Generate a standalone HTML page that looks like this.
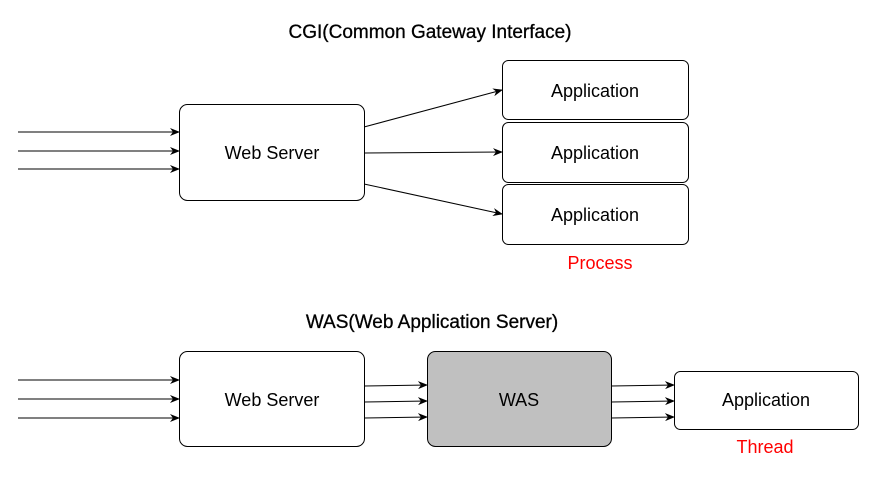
<!DOCTYPE html>
<html><head><style>body{margin:0;background:#fff}svg{display:block}</style></head><body>
<svg width="877" height="479" xmlns="http://www.w3.org/2000/svg" font-family="Liberation Sans, sans-serif">
<defs><marker id="a" markerWidth="10" markerHeight="8" refX="9" refY="4" orient="auto" markerUnits="userSpaceOnUse"><path d="M0,0 L10,4 L0,8 L3,4 Z" fill="#000"/></marker></defs>
<g stroke="#000" stroke-width="1" fill="none">
<line x1="18" y1="132" x2="179" y2="132" marker-end="url(#a)"/>
<line x1="18" y1="151" x2="179" y2="151" marker-end="url(#a)"/>
<line x1="18" y1="169" x2="179" y2="169" marker-end="url(#a)"/>
<line x1="364" y1="127" x2="502" y2="90" marker-end="url(#a)"/>
<line x1="364" y1="153" x2="502" y2="152" marker-end="url(#a)"/>
<line x1="364" y1="184" x2="502" y2="214" marker-end="url(#a)"/>
<line x1="18" y1="380" x2="179" y2="380" marker-end="url(#a)"/>
<line x1="18" y1="399" x2="179" y2="399" marker-end="url(#a)"/>
<line x1="18" y1="418" x2="179" y2="418" marker-end="url(#a)"/>
<line x1="364" y1="386" x2="427" y2="385" marker-end="url(#a)"/>
<line x1="364" y1="402" x2="427" y2="401" marker-end="url(#a)"/>
<line x1="364" y1="418" x2="427" y2="417" marker-end="url(#a)"/>
<line x1="611" y1="386" x2="674" y2="385" marker-end="url(#a)"/>
<line x1="611" y1="402" x2="674" y2="401" marker-end="url(#a)"/>
<line x1="611" y1="418" x2="674" y2="417" marker-end="url(#a)"/>
<rect x="179.5" y="104.5" width="185" height="96" rx="8" fill="#fff"/>
<rect x="502.5" y="60.5" width="186" height="59" rx="6" fill="#fff"/>
<rect x="502.5" y="122.5" width="186" height="60" rx="6" fill="#fff"/>
<rect x="502.5" y="184.5" width="186" height="60" rx="6" fill="#fff"/>
<rect x="179.5" y="351.5" width="185" height="95" rx="8" fill="#fff"/>
<rect x="427.5" y="351.5" width="184" height="95" rx="8" fill="#c0c0c0"/>
<rect x="674.5" y="371.5" width="184" height="58" rx="6" fill="#fff"/>
</g>
<g font-size="18" text-anchor="middle" fill="#000">
<text x="430" y="38" font-size="19" stroke="#000" stroke-width="0.3">CGI(Common Gateway Interface)</text>
<text x="272" y="159">Web Server</text>
<text x="595" y="97">Application</text>
<text x="595" y="159">Application</text>
<text x="595" y="221">Application</text>
<text x="600" y="269" fill="#f00">Process</text>
<text x="432" y="328" font-size="19" stroke="#000" stroke-width="0.3">WAS(Web Application Server)</text>
<text x="272" y="406">Web Server</text>
<text x="519" y="406">WAS</text>
<text x="766" y="406">Application</text>
<text x="765" y="453" fill="#f00">Thread</text>
</g>
</svg>
</body></html>
